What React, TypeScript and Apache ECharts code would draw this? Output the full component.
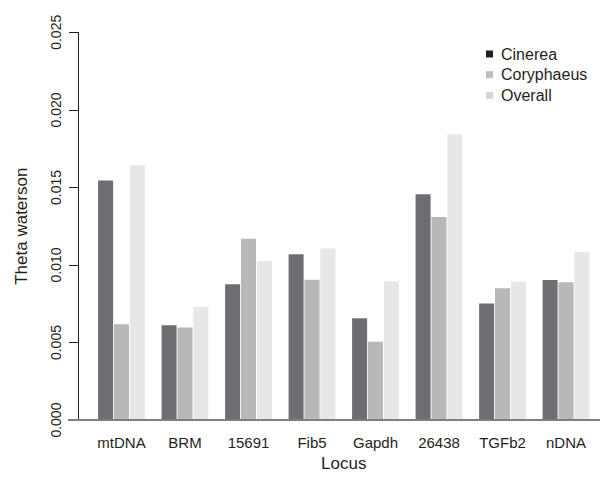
import React, { useEffect, useRef } from "react";
import * as echarts from "echarts";

const categories = ["mtDNA", "BRM", "15691", "Fib5", "Gapdh", "26438", "TGFb2", "nDNA"];
const cinerea = [0.01545, 0.00612, 0.00875, 0.01069, 0.00657, 0.01456, 0.00752, 0.00903];
const coryphaeus = [0.00618, 0.00597, 0.01169, 0.00905, 0.00505, 0.01309, 0.0085, 0.00888];
const overall = [0.01643, 0.00731, 0.01026, 0.01106, 0.00895, 0.01842, 0.00894, 0.01084];
const seriesNames = ["Cinerea", "Coryphaeus", "Overall"];
const yMin = 0;
const yMax = 0.025;
const yInterval = 0.005;

const barColors = ["#6d6e71", "#b7b8ba", "#e6e7e8"];
const legendColors = ["#231f20", "#bcbec0", "#d4d5d6"];
const FONT = "'Liberation Sans', Arial, sans-serif";

export default function App() {
  const ref = useRef<HTMLDivElement>(null);
  useEffect(() => {
    if (!ref.current) return;
    const chart = echarts.init(ref.current, null, { renderer: "svg" });
    const dataSets = [cinerea, coryphaeus, overall];
    chart.setOption({
      animation: false,
      backgroundColor: "#ffffff",
      textStyle: { fontFamily: FONT },
      grid: { left: 89.75, top: 32.3, width: 508, height: 397.7, containLabel: false },
      legend: {
        orient: "vertical",
        left: 481,
        top: 41,
        itemWidth: 7,
        itemHeight: 7,
        itemGap: 4.7,
        icon: "rect",
        textStyle: { fontSize: 16, color: "#231f20", fontFamily: FONT, lineHeight: 16, padding: [0, 0, 0, 3] },
        data: seriesNames.map((n, i) => ({ name: n, itemStyle: { color: legendColors[i] } })),
      },
      xAxis: {
        type: "category",
        data: categories,
        axisLine: { show: false },
        axisTick: { show: false },
        axisLabel: { fontSize: 15, color: "#231f20", margin: 15, fontFamily: FONT },
        name: "Locus",
        nameLocation: "middle",
        nameGap: 31,
        nameTextStyle: { fontSize: 17, color: "#231f20", fontFamily: FONT },
      },
      yAxis: {
        type: "value",
        min: yMin,
        max: yMax,
        interval: yInterval,
        offset: 11.75,
        axisLine: { show: true, lineStyle: { color: "#231f20", width: 1 } },
        axisTick: { show: true, length: 9, lineStyle: { color: "#231f20", width: 1 } },
        splitLine: { show: false },
        axisLabel: {
          rotate: 90,
          fontSize: 14,
          color: "#231f20",
          margin: 15,
          fontFamily: FONT,
          formatter: (v: number) => v.toFixed(3),
        },
        name: "Theta waterson",
        nameLocation: "middle",
        nameGap: 48,
        nameTextStyle: { fontSize: 17, color: "#231f20", fontFamily: FONT },
      },
      series: seriesNames.map((n, i) => ({
        name: n,
        type: "bar",
        data: dataSets[i],
        barWidth: 15,
        barGap: "6%",
        itemStyle: { color: barColors[i] },
      })),
    });
    const y0 = chart.convertToPixel({ yAxisIndex: 0 }, 0) as number;
    chart.setOption({
      graphic: [
        {
          type: "line",
          shape: { x1: 68, y1: y0, x2: 600, y2: y0 },
          style: { stroke: "#7f7f7f", lineWidth: 2 },
          z: 10,
        },
      ],
    });
    return () => chart.dispose();
  }, []);
  return (
    <div
      ref={ref}
      style={{ position: "fixed", left: 0, top: 0, width: 600, height: 477 }}
    />
  );
}
